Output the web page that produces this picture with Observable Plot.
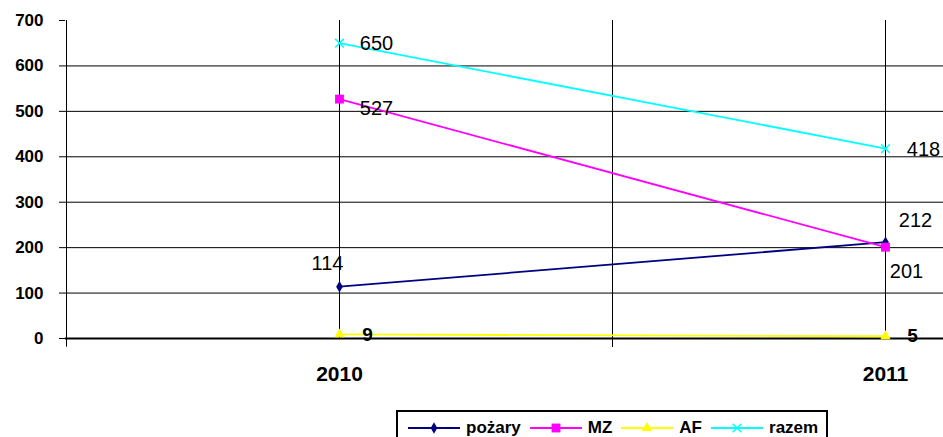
<!DOCTYPE html>
<html>
<head>
<meta charset="utf-8">
<script src="https://cdn.jsdelivr.net/npm/d3@7"></script>
<script src="https://cdn.jsdelivr.net/npm/@observablehq/plot@0.6"></script>
<style>
  body { margin: 0; background: #fff; font-family: "Liberation Sans", Arial, sans-serif; }
  #wrap { position: relative; width: 943px; height: 437px; overflow: hidden; }
  #wrap svg.plot { display: block; }
  #legend { position: absolute; left: 396px; top: 410px; width: 432px; height: 40px;
            border: 2px solid #000; box-sizing: border-box; display: flex; align-items: flex-start;
            padding-left: 10px; padding-top: 7px; font-weight: bold; font-size: 17px; line-height: 18px; }
  .item { display: flex; align-items: center; margin-right: 9px; }
  .item svg { margin-right: 6px; }
</style>
</head>
<body>
<div id="wrap"></div>
<script>
const years = [2010, 2011];
const seriesNames = ["pożary", "MZ", "AF", "razem"];
const pozary = [114, 212];
const mz = [527, 201];
const af = [9, 5];
const razem = [650, 418];
const yTicks = [0, 100, 200, 300, 400, 500, 600, 700];
const colors = ["#000080", "#FF00FF", "#FFFF00", "#00FFFF"];

const seriesValues = [pozary, mz, af, razem];
const rows = [];
seriesNames.forEach((s, i) => years.forEach((yr, j) => rows.push({series: s, year: yr, value: seriesValues[i][j]})));

// label offsets (styling, kept apart from data)
const labelOffsets = {
  "pożary-2010": [-12, -23], "pożary-2011": [30, -22],
  "MZ-2010": [37, 10], "MZ-2011": [21, 24],
  "AF-2010": [28, 0], "AF-2011": [27, 0],
  "razem-2010": [37, 0], "razem-2011": [38, 1]
};

const font = "Liberation Sans, Arial, sans-serif";
const sym = {"pożary": "diamond", "MZ": "square", "AF": "triangle", "razem": "times"};
const symR = {"pożary": 3.5, "MZ": 5, "AF": 3.8, "razem": 4};

const marks = [
  Plot.ruleY(yTicks.filter(d => d > 0 && d < 700), {stroke: "#000", strokeWidth: 1}),
  Plot.ruleX([2010, 2010.5, 2011], {y1: 0, y2: 700, stroke: "#000", strokeWidth: 1}),
  Plot.ruleX([2009.5], {y1: -19, y2: 700, stroke: "#000", strokeWidth: 1}),
  Plot.axisY({ticks: yTicks, tickSize: 6, tickPadding: 16, fontSize: 17, fontWeight: "bold", tickFormat: d => d, stroke: "#000", color: "#000", label: null}),
  Plot.axisX({ticks: [2010.5], tickSize: 9, tickFormat: () => "", stroke: "#000", label: null}),
  Plot.axisX({ticks: years, tickSize: 0, tickPadding: 28, fontSize: 21, fontWeight: "bold", tickFormat: d => String(d), color: "#000", label: null}),
  Plot.ruleY([0], {stroke: "#000", strokeWidth: 2})
];

seriesNames.forEach((s, i) => {
  const data = rows.filter(r => r.series === s);
  marks.push(Plot.line(data, {x: "year", y: "value", stroke: colors[i], strokeWidth: 1.8}));
});
seriesNames.forEach((s, i) => {
  const data = rows.filter(r => r.series === s);
  const isStroke = sym[s] === "times";
  marks.push(Plot.dot(data, {x: "year", y: "value", symbol: () => sym[s], r: symR[s],
    fill: isStroke ? "none" : colors[i], stroke: isStroke ? colors[i] : "none", strokeWidth: 1.5}));
});
rows.forEach(r => {
  const off = labelOffsets[r.series + "-" + r.year];
  const bold = r.series === "AF";
  marks.push(Plot.text([r], {x: "year", y: "value", text: d => String(d.value), dx: off[0], dy: off[1],
    fontSize: bold ? 19 : 20, fontWeight: bold ? "bold" : "normal", fill: "#000"}));
});

const chart = Plot.plot({
  width: 943, height: 405,
  marginLeft: 65, marginTop: 20, marginRight: 0, marginBottom: 67,
  x: {domain: [2009.5, 2011.5], range: [66, 1158]},
  y: {domain: [0, 700], range: [338, 20]},
  symbol: {type: "identity"},
  style: {fontFamily: font, background: "#fff", color: "#000"},
  marks
});
document.getElementById("wrap").appendChild(chart);

// legend
const legend = document.createElement("div");
legend.id = "legend";
seriesNames.forEach((s, i) => {
  const item = document.createElement("div");
  item.className = "item";
  const sw = d3.create("svg").attr("width", 52).attr("height", 14);
  sw.append("line").attr("x1", 0).attr("x2", 52).attr("y1", 7).attr("y2", 7).attr("stroke", colors[i]).attr("stroke-width", 2);
  const types = {"diamond": d3.symbolDiamond, "square": d3.symbolSquare, "triangle": d3.symbolTriangle, "times": d3.symbolTimes};
  const r = symR[s];
  const p = d3.symbol(types[sym[s]], r * r * Math.PI)();
  const isStroke = sym[s] === "times";
  sw.append("path").attr("d", p).attr("transform", "translate(26,7)")
    .attr("fill", isStroke ? "none" : colors[i]).attr("stroke", isStroke ? colors[i] : "none").attr("stroke-width", 1.5);
  item.appendChild(sw.node());
  const t = document.createElement("span");
  t.textContent = s;
  item.appendChild(t);
  legend.appendChild(item);
});
document.getElementById("wrap").appendChild(legend);
</script>
</body>
</html>
